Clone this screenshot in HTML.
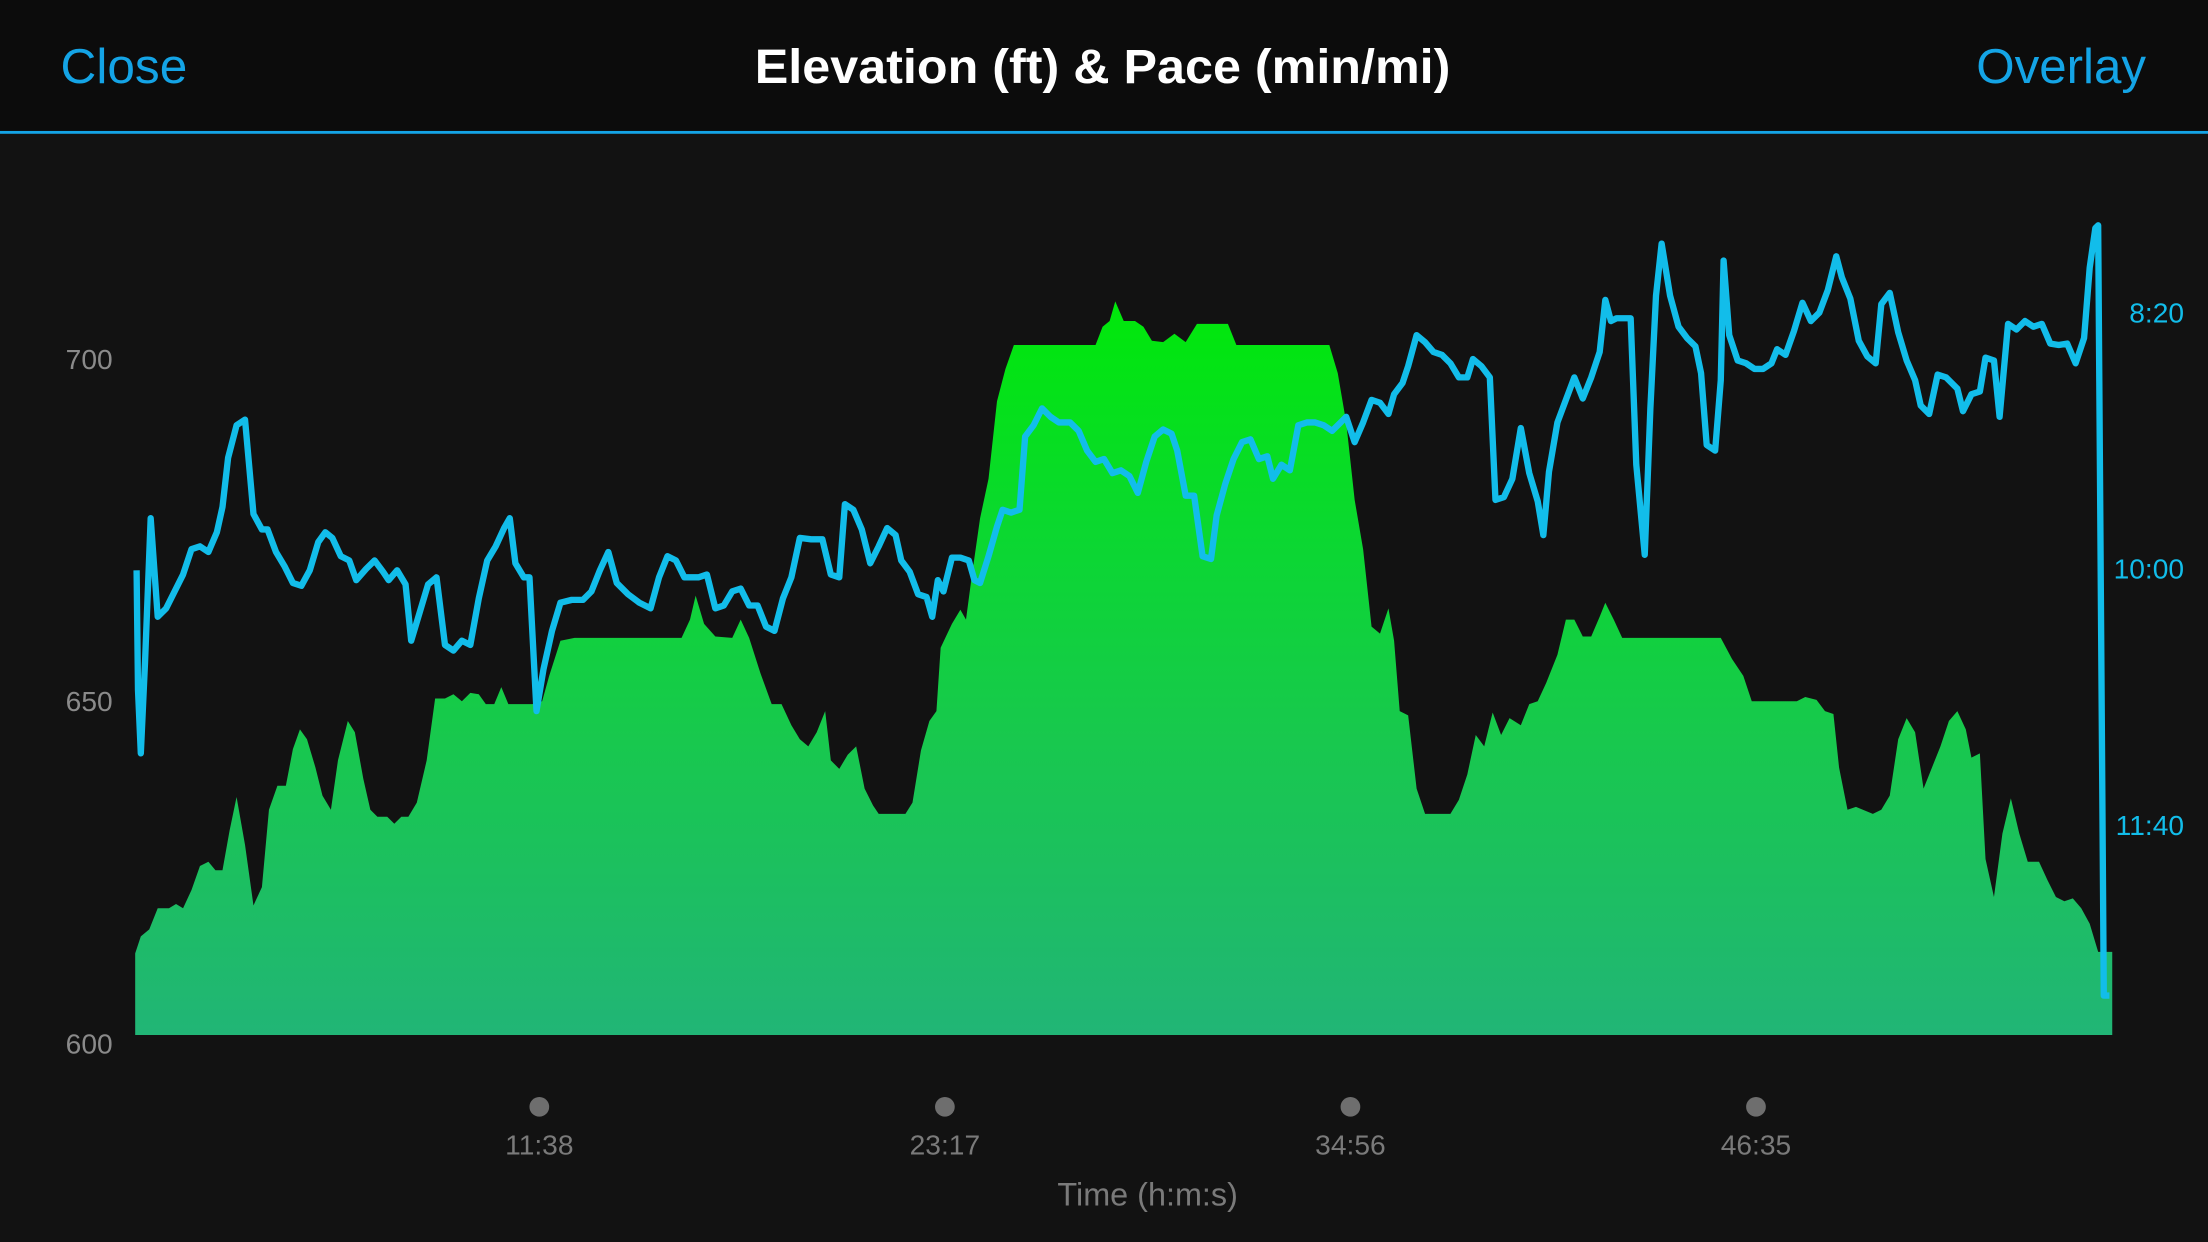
<!DOCTYPE html>
<html><head><meta charset="utf-8"><style>
html,body{margin:0;padding:0;background:#121212;}
svg{display:block;}
</style></head><body>
<svg width="2208" height="1242" viewBox="0 0 1568 882" xmlns="http://www.w3.org/2000/svg" font-family="Liberation Sans, sans-serif">
<defs>
<linearGradient id="g" gradientUnits="userSpaceOnUse" x1="0" y1="214" x2="0" y2="735">
<stop offset="0" stop-color="#00e80a"/>
<stop offset="0.35" stop-color="#0cd634"/>
<stop offset="0.6" stop-color="#18c84e"/>
<stop offset="1" stop-color="#21b576"/>
</linearGradient>
</defs>
<rect x="0" y="0" width="1568" height="882" fill="#121212"/>
<rect x="0" y="0" width="1568" height="94" fill="#0c0c0c"/>
<rect x="0" y="93" width="1568" height="2" fill="#14a4e6"/>
<text x="43" y="59" font-size="35" fill="#14a4e6" textLength="90" lengthAdjust="spacingAndGlyphs">Close</text>
<text x="783" y="59" font-size="34" fill="#ffffff" font-weight="bold" text-anchor="middle" textLength="494" lengthAdjust="spacingAndGlyphs">Elevation (ft) &amp; Pace (min/mi)</text>
<text x="1524" y="59" font-size="35" fill="#14a4e6" text-anchor="end">Overlay</text>

<text x="80" y="262" font-size="20" fill="#8a8a8a" text-anchor="end">700</text>
<text x="80" y="505" font-size="20" fill="#8a8a8a" text-anchor="end">650</text>
<text x="80" y="748" font-size="20" fill="#8a8a8a" text-anchor="end">600</text>

<polygon fill="url(#g)" points="96,735 96,677 100,665 106,660 112,645 120,645 125,642 130,645 136,632 142,615 148,612 153,618 158,618 163,590 168,566 174,600 180,643 186,630 191,575 197,558 203,558 208,532 213,518 218,525 224,545 229,565 235,575 240,540 247,512 252,520 258,553 263,575 268,580 275,580 280,585 285,580 290,580 296,570 303,540 309,496 316,496 322,493 328,498 334,492 340,493 345,500 351,500 356,488 361,500 378,500 385,498 390,480 398,455 408,453 484,453 490,440 494,423 500,443 508,452 520,453 526,440 532,453 540,478 548,500 555,500 562,515 568,525 574,530 580,520 586,505 590,540 596,546 602,536 608,530 614,560 620,572 624,578 643,578 648,570 654,533 660,512 665,505 668,460 676,443 682,433 686,440 690,410 696,368 702,340 708,285 714,262 720,245 778,245 783,232 788,228 792,214 798,228 806,228 812,232 818,242 826,243 834,237 842,243 850,230 872,230 878,245 944,245 950,265 956,300 962,355 968,390 974,445 980,450 986,432 990,455 994,505 1000,508 1006,560 1012,578 1030,578 1036,568 1042,550 1048,522 1054,530 1060,506 1066,522 1072,510 1080,515 1086,500 1092,498 1098,485 1106,465 1112,440 1118,440 1124,452 1130,452 1136,438 1140,428 1146,440 1152,453 1222,453 1230,468 1238,480 1244,498 1276,498 1282,495 1290,497 1296,505 1302,507 1306,545 1312,575 1318,573 1330,578 1336,575 1342,565 1348,525 1354,510 1360,520 1366,560 1372,545 1378,530 1384,512 1390,505 1396,518 1400,538 1406,535 1410,610 1416,637 1422,592 1428,567 1434,592 1440,612 1448,612 1454,625 1460,637 1466,640 1472,638 1478,645 1484,656 1490,676 1500,676 1500,735"/>

<polyline fill="none" stroke="#12bdea" stroke-width="4.5" stroke-linejoin="round" points="97,405 98,490 100,535 103,470 107,368 112,438 118,432 124,420 130,408 136,390 142,388 148,392 154,378 158,360 162,325 168,302 174,298 180,365 186,376 190,376 196,392 202,402 208,414 214,416 220,405 226,385 231,378 236,382 242,395 248,398 253,412 260,404 266,398 272,406 276,412 282,405 288,415 292,455 298,435 304,415 310,410 316,458 322,462 328,455 334,458 340,425 346,398 352,388 358,375 362,368 366,400 372,410 376,410 381,505 386,475 392,448 398,428 406,426 414,426 420,420 426,405 432,392 438,414 446,422 454,428 462,432 468,410 474,395 480,398 486,410 496,410 502,408 508,432 514,430 520,420 526,418 532,430 538,430 544,445 550,448 556,425 562,410 568,382 576,383 584,383 590,408 596,410 600,358 606,362 612,376 618,400 624,388 630,375 636,380 640,398 646,406 652,422 658,424 662,438 666,412 670,420 676,396 682,396 688,398 692,412 696,414 702,395 708,374 712,362 718,364 724,362 728,310 734,302 740,290 746,296 752,300 760,300 766,306 772,320 778,328 784,326 790,336 796,334 802,338 808,350 814,328 820,310 826,305 832,308 836,320 842,352 848,352 854,395 860,397 864,366 870,344 876,326 882,314 888,312 894,326 900,324 904,340 910,330 916,334 922,302 928,300 934,300 940,302 946,306 952,300 956,296 962,314 968,300 974,284 980,286 986,294 990,280 996,272 1000,260 1006,238 1012,243 1018,250 1024,252 1030,258 1036,268 1042,268 1046,255 1052,260 1058,268 1062,355 1068,353 1074,340 1080,304 1086,336 1092,356 1096,380 1100,335 1106,300 1112,284 1118,268 1124,283 1130,268 1136,250 1140,213 1144,228 1148,226 1158,226 1162,330 1168,394 1172,290 1176,210 1180,173 1186,210 1192,232 1198,240 1204,246 1208,265 1212,316 1218,320 1222,270 1224,185 1228,238 1234,256 1240,258 1246,262 1252,262 1258,258 1262,248 1268,252 1274,235 1280,215 1286,228 1292,222 1298,206 1304,182 1308,197 1314,212 1320,242 1326,253 1332,258 1336,216 1342,208 1348,236 1354,256 1360,270 1364,288 1370,294 1376,266 1382,268 1390,276 1394,292 1400,280 1406,278 1410,254 1416,256 1420,296 1426,230 1432,234 1438,228 1444,232 1450,230 1456,244 1462,245 1468,244 1474,258 1480,240 1484,190 1488,162 1490,160 1494,707 1498,707"/>

<text x="1551" y="229" font-size="20" fill="#12bdea" text-anchor="end">8:20</text>
<text x="1551" y="411" font-size="20" fill="#12bdea" text-anchor="end">10:00</text>
<text x="1551" y="593" font-size="20" fill="#12bdea" text-anchor="end">11:40</text>

<circle cx="383" cy="786" r="7" fill="#6e6e6e"/>
<circle cx="671" cy="786" r="7" fill="#6e6e6e"/>
<circle cx="959" cy="786" r="7" fill="#6e6e6e"/>
<circle cx="1247" cy="786" r="7" fill="#6e6e6e"/>
<text x="383" y="820" font-size="20" fill="#7a7a7a" text-anchor="middle">11:38</text>
<text x="671" y="820" font-size="20" fill="#7a7a7a" text-anchor="middle">23:17</text>
<text x="959" y="820" font-size="20" fill="#7a7a7a" text-anchor="middle">34:56</text>
<text x="1247" y="820" font-size="20" fill="#7a7a7a" text-anchor="middle">46:35</text>
<text x="815" y="856" font-size="23" fill="#7a7a7a" text-anchor="middle">Time (h:m:s)</text>
</svg>
</body></html>
